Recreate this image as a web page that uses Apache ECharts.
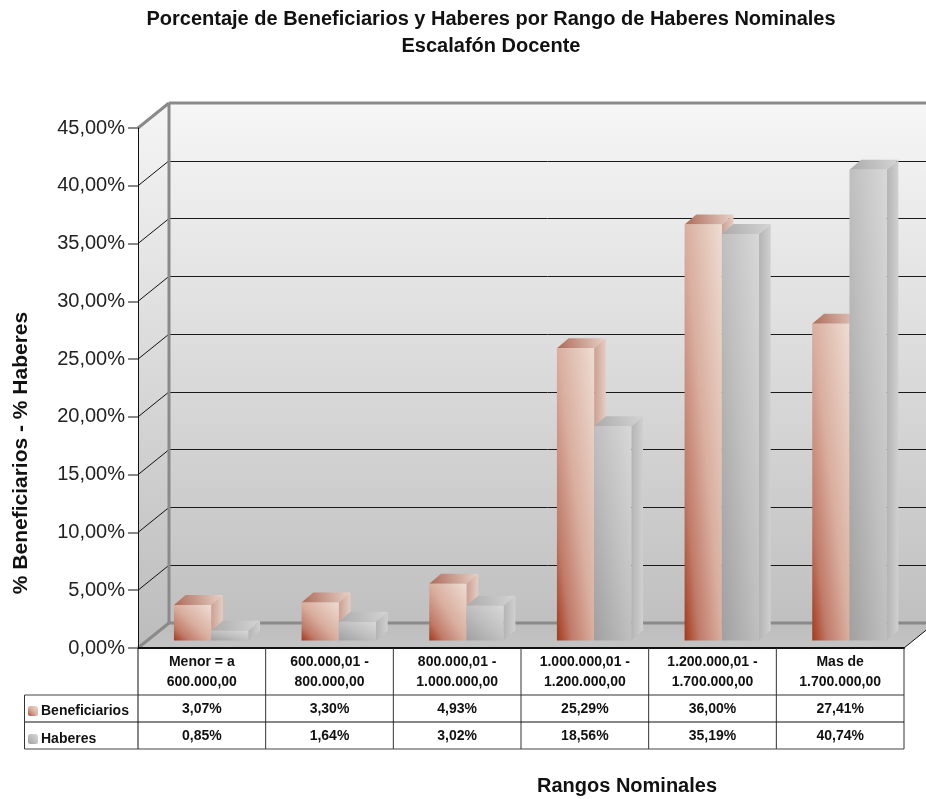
<!DOCTYPE html>
<html>
<head>
<meta charset="utf-8">
<style>html,body{margin:0;padding:0;background:#fff}#c{width:926px;height:799px}</style>
<script src="https://cdn.jsdelivr.net/npm/echarts@6/dist/echarts.min.js"></script>
</head>
<body>
<div id="c"></div>
<script>
const categories = ['Menor = a\n600.000,00','600.000,01 -\n800.000,00','800.000,01 -\n1.000.000,00','1.000.000,01 -\n1.200.000,00','1.200.000,01 -\n1.700.000,00','Mas de\n1.700.000,00'];
const beneficiarios = [3.07,3.30,4.93,25.29,36.00,27.41];
const haberes = [0.85,1.64,3.02,18.56,35.19,40.74];
const tickValues = [0,5,10,15,20,25,30,35,40,45];
const titleText = 'Porcentaje de Beneficiarios y Haberes por Rango de Haberes Nominales\nEscalafón Docente';
const yName = '% Beneficiarios - % Haberes';
const xName = 'Rangos Nominales';

const FONT = '"Liberation Sans", Arial, Helvetica, sans-serif';
const fmt = v => v.toFixed(2).replace('.', ',') + '%';
const G = echarts.graphic.LinearGradient;
const DEPTH = [31, -25], BAR_SHIFT = [9.3, -7.4], BAR_DEPTH = [11.7, -10], BAR_RATIO = 0.2915;
const RED = [[0,'#a2391b'],[0.2,'#c07a68'],[0.5,'#d9ae9f'],[1,'#efdcd2']];
const GREY = [[0,'#a0a0a0'],[0.5,'#bfbfbf'],[1,'#d8d8d8']];
const stops = a => a.map(s => ({offset:s[0], color:s[1]}));

function cornerGradient(x, y, w, h, st) {
  const k = 2*w*h/(h*h + w*w);
  return new G(x, y+h, x + k*h, y+h - k*w, stops(st), true);
}
function barItem(offsetIdx, st, sideSt, topSt) {
  return function (params, api) {
    const c = api.value(0), v = api.value(1);
    const p = api.coord([c, v]), b = api.coord([c, 0]);
    const band = api.size([1, 0])[0], w = band * BAR_RATIO;
    const x = p[0] + BAR_SHIFT[0] + (offsetIdx - 1) * w;
    const yT = p[1] + BAR_SHIFT[1], yB = b[1] + BAR_SHIFT[1];
    const dx = BAR_DEPTH[0], dy = BAR_DEPTH[1], h = yB - yT;
    return {type:'group', children:[
      {type:'polygon', shape:{points:[[x+w,yB],[x+w+dx,yB+dy],[x+w+dx,yT+dy],[x+w,yT]]},
        style:{fill:new G(0,0,1,0,stops(sideSt))}},
      {type:'polygon', shape:{points:[[x,yT],[x+dx,yT+dy],[x+w+dx,yT+dy],[x+w,yT]]},
        style:{fill:new G(0,1,1,0,stops(topSt))}},
      {type:'rect', shape:{x:x, y:yT, width:w, height:h},
        style:{fill:cornerGradient(x,yT,w,h,st)}}
    ]};
  };
}
function frameItem(params, api) {
  const g = '#8a8a8a';
  const top = api.coord([0,45]), bot = api.coord([0,0]);
  const x0 = api.coord([0,0])[0] - api.size([1,0])[0]/2;
  const t = top[1], b = bot[1], dx = DEPTH[0], dy = DEPTH[1];
  const x1 = x0 + 766 + 31;
  const kids = [
    {type:'polygon', shape:{points:[[x0,t],[x0+dx,t+dy],[x0+dx,b+dy],[x0,b]]},
      style:{fill:new G(0,t+dy,0,b,[{offset:0,color:'#f5f5f5'},{offset:1,color:'#bcbcbc'}],true)}},
    {type:'polygon', shape:{points:[[x0,b],[x0+dx,b+dy],[x1,b+dy],[x1-dx,b]]},
      style:{fill:new G(0,b+dy,0,b,[{offset:0,color:'#bdbdbd'},{offset:1,color:'#c4c4c4'}],true)}}
  ];
  tickValues.slice(1,-1).forEach(v => {
    const y = api.coord([0,v])[1];
    kids.push({type:'line', shape:{x1:x0,y1:y,x2:x0+dx,y2:y+dy}, style:{stroke:'#111',lineWidth:1}});
  });
  const seg = (a,b2,c,d) => ({type:'line', shape:{x1:a,y1:b2,x2:c,y2:d}, style:{stroke:g,lineWidth:3}});
  kids.push(seg(x0,t,x0+dx,t+dy), seg(x0+dx,t+dy,x1,t+dy), seg(x0+dx,t+dy,x0+dx,b+dy),
            seg(x0+dx,b+dy,x1,b+dy), seg(x0,b,x0+dx,b+dy));
  kids.push({type:'line', shape:{x1:x1-dx,y1:b,x2:x1,y2:b+dy}, style:{stroke:'#111',lineWidth:1}});
  return {type:'group', children:kids};
}
function tableItem(params, api) {
  const i = api.value(0);
  const band = api.size([1,0])[0];
  const cx = api.coord([i,0])[0], y0 = api.coord([i,0])[1];
  const xL = cx - band/2, xR = cx + band/2;
  const R = [y0+47, y0+74, y0+101];
  const line = (a,b,c,d,col,lw) => ({type:'line', shape:{x1:a,y1:b,x2:c,y2:d}, style:{stroke:col,lineWidth:lw||1}});
  const txt = (t,y) => ({type:'text', style:{text:t,x:cx,y:y,align:'center',verticalAlign:'middle',
    font:'bold 14px '+FONT, fill:'#111'}});
  const kids = [
    line(xR,y0,xR,R[2],'#333'),
    line(xL,R[0],xR,R[0],'#333'),
    line(xL,R[1],xR,R[1],'#111'),
    line(xL,R[2],xR,R[2],'#444'),
    txt(fmt(api.value(1)), y0+61),
    txt(fmt(api.value(2)), y0+88)
  ];
  if (i === 0) {
    const xS = 24.5;
    kids.push(line(xL,y0,xL,R[2],'#111'),
      line(xS,R[0],xL,R[0],'#444'), line(xS,R[1],xL,R[1],'#111'), line(xS,R[2],xL,R[2],'#444'),
      line(xS,R[0],xS,R[2],'#333'));
  }
  return {type:'group', children:kids};
}

const chart = echarts.init(document.getElementById('c'), null, {renderer:'canvas', width:926, height:799});
chart.setOption({
  animation:false,
  backgroundColor:'#fff',
  textStyle:{fontFamily:FONT},
  title:[
    {text:titleText, left:486, top:1, textAlign:'center',
     textStyle:{fontFamily:FONT,fontSize:20,fontWeight:'bold',color:'#111',lineHeight:27}},
    {text:xName, left:622, top:771, textAlign:'center',
     textStyle:{fontFamily:FONT,fontSize:20,fontWeight:'bold',color:'#111'}}
  ],
  legend:{orient:'vertical', left:23, top:699, itemWidth:10, itemHeight:10, itemGap:14,
    data:['Beneficiarios','Haberes'], selectedMode:false,
    textStyle:{fontFamily:FONT,fontSize:14,fontWeight:'bold',color:'#111',padding:[0,0,0,-2]}},
  graphic:[{type:'text', rotation:Math.PI/2, x:21, y:453,
    style:{text:yName,align:'center',verticalAlign:'middle',font:'bold 21px '+FONT,fill:'#111'}}],
  grid:[
    {left:138, top:128, width:766, height:520, show:false},
    {left:169, top:103, width:766, height:520, show:true, borderWidth:0, z:0,
     backgroundColor:new G(0,0,0,1,[{offset:0,color:'#f6f6f6'},{offset:1,color:'#c0c0c0'}])}
  ],
  xAxis:[
    {type:'category', gridIndex:0, data:categories, boundaryGap:true,
     axisTick:{show:false}, axisLine:{show:true,lineStyle:{color:'#111',width:2}},
     axisLabel:{interval:0, margin:4, fontFamily:FONT, fontSize:14, fontWeight:'bold', color:'#111', lineHeight:20, verticalAlign:'top'},
     z:5},
    {type:'category', gridIndex:1, data:categories, show:false}
  ],
  yAxis:[
    {type:'value', gridIndex:0, min:0, max:45, interval:5,
     axisLine:{show:true,lineStyle:{color:'#111',width:1}},
     axisTick:{show:true,length:10,lineStyle:{color:'#888',width:2}},
     splitLine:{show:false},
     axisLabel:{formatter:fmt, margin:13, fontFamily:FONT, fontSize:20, color:'#222', padding:[2,0,0,0]},
     z:5},
    {type:'value', gridIndex:1, min:0, max:45, interval:5,
     axisLine:{show:false}, axisTick:{show:false}, axisLabel:{show:false},
     splitLine:{show:true,lineStyle:{color:'#1a1a1a',width:1}}}
  ],
  series:[
    {type:'custom', name:'frame', renderItem:frameItem, data:[[0]], xAxisIndex:0, yAxisIndex:0, z:2, silent:true, encode:{x:0}},
    {type:'custom', name:'tabla', renderItem:tableItem, z:6, silent:true, xAxisIndex:0, yAxisIndex:0,
     data:categories.map((c,i)=>[i,beneficiarios[i],haberes[i]]), encode:{x:0}},
    {type:'custom', name:'Beneficiarios', renderItem:barItem(0,RED,[[0,'#c9a093'],[1,'#e6cdc2']],[[0,'#ad6a58'],[1,'#e8d2c9']]),
     z:3, xAxisIndex:0, yAxisIndex:0, encode:{x:0,y:1},
     itemStyle:{color:new G(0,1,1,0,stops(RED))},
     data:beneficiarios.map((v,i)=>[i,v])},
    {type:'custom', name:'Haberes', renderItem:barItem(1,GREY,[[0,'#b4b4b4'],[1,'#d0d0d0']],[[0,'#ababab'],[1,'#d4d4d4']]),
     z:3, xAxisIndex:0, yAxisIndex:0, encode:{x:0,y:1},
     itemStyle:{color:new G(0,1,1,0,stops(GREY))},
     data:haberes.map((v,i)=>[i,v])}
  ]
});
</script>
</body>
</html>
